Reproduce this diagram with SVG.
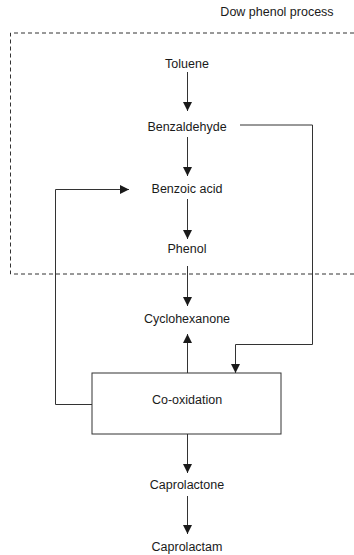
<svg xmlns="http://www.w3.org/2000/svg" width="354" height="555" viewBox="0 0 354 555">
<style>
text{font-family:"Liberation Sans",Arial,sans-serif;font-size:12.5px;fill:#1a1a1a;text-anchor:middle}
.c{fill:none;stroke:#333;stroke-width:1}
.a{marker-end:url(#ah)}
</style>
<defs>
<marker id="ah" viewBox="0 0 10 10" refX="10" refY="5" markerWidth="9" markerHeight="9" markerUnits="userSpaceOnUse" orient="auto">
<path d="M0,0L10,5L0,10z" fill="#1a1a1a"/>
</marker>
</defs>
<rect width="354" height="555" fill="#fff"/>
<g id="region">
<path d="M354,33H10.5V274H354" fill="none" stroke="#333" stroke-dasharray="4,3"/>
<text x="277" y="16">Dow phenol process</text>
</g>
<g id="connectors">
<path class="c a" d="M187.5,72V111"/>
<path class="c a" d="M187.5,137V176"/>
<path class="c a" d="M187.5,199V239"/>
<path class="c a" d="M187.5,266V306"/>
<path class="c a" d="M187.5,373V334"/>
<path class="c a" d="M187.5,434V473"/>
<path class="c a" d="M187.5,496V534"/>
<path class="c a" d="M240,125H312.5V344.5H235.5V373"/>
<path class="c a" d="M92,404.5H55.5V189.5H129"/>
</g>
<g id="toluene"><text x="187" y="68">Toluene</text></g>
<g id="benzaldehyde"><text x="187" y="131">Benzaldehyde</text></g>
<g id="benzoic-acid"><text x="187" y="193">Benzoic acid</text></g>
<g id="phenol"><text x="187" y="253">Phenol</text></g>
<g id="cyclohexanone"><text x="187" y="323">Cyclohexanone</text></g>
<g id="co-oxidation"><rect x="92" y="373" width="189" height="61" fill="#fff" stroke="#333"/><text x="187" y="404">Co-oxidation</text></g>
<g id="caprolactone"><text x="187" y="489">Caprolactone</text></g>
<g id="caprolactam"><text x="187" y="551">Caprolactam</text></g>
</svg>
